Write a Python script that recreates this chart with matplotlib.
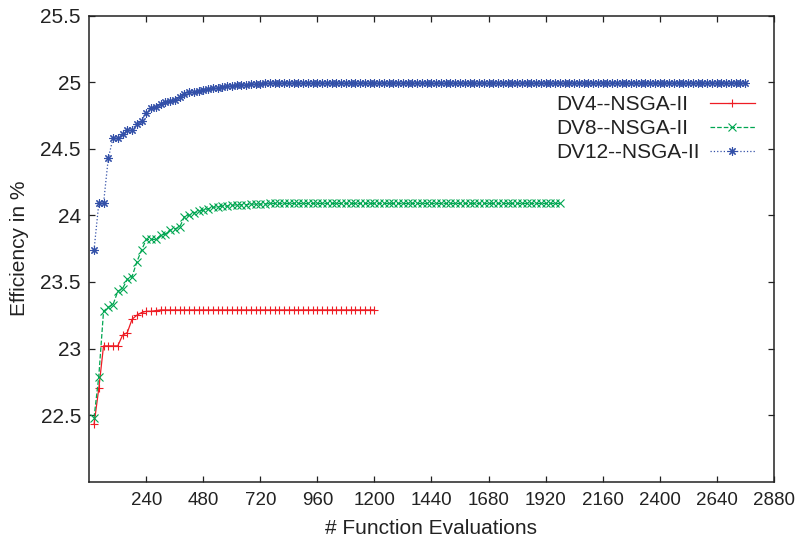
import numpy as np
import matplotlib
matplotlib.use('Agg')
import matplotlib.pyplot as plt
from matplotlib.lines import Line2D

plt.rcParams['font.family'] = ['Liberation Sans', 'DejaVu Sans']

# evaluations are logged once per generation (population size 20)
pop_size = 20

# efficiency (%) of best design after each generation
dv4 = [22.43, 22.70, 23.02, 23.02, 23.02, 23.02, 23.10, 23.12, 23.22, 23.25,
       23.27, 23.28, 23.28, 23.285, 23.29] + [23.29] * 45
dv8 = [22.48, 22.79, 23.28, 23.31, 23.33, 23.43, 23.45, 23.52, 23.54, 23.65,
       23.74, 23.82, 23.82, 23.82, 23.85, 23.86, 23.89, 23.90, 23.91, 23.99,
       24.00, 24.02, 24.03, 24.04, 24.05, 24.06, 24.065, 24.07, 24.07, 24.075,
       24.08, 24.08, 24.08, 24.085, 24.085, 24.085, 24.085, 24.09, 24.09, 24.09] + [24.09] * 59
dv12 = [23.74, 24.09, 24.09, 24.43, 24.58, 24.58, 24.61, 24.64, 24.645, 24.69,
        24.71, 24.77, 24.81, 24.815, 24.84, 24.85, 24.86, 24.87, 24.89, 24.91,
        24.925, 24.93, 24.935, 24.945, 24.95, 24.955, 24.96, 24.965, 24.97, 24.975,
        24.978, 24.98, 24.983, 24.985, 24.987, 24.99, 24.992, 24.993, 24.994, 24.995] + [24.997] * 98

labels = ['DV4--NSGA-II', 'DV8--NSGA-II', 'DV12--NSGA-II']
colors = ['#ee1c24', '#00a651', '#3350a8']
styles = ['-', '--', ':']
markers = ['+', 'x', (8, 2, 0)]

xticks = [240, 480, 720, 960, 1200, 1440, 1680, 1920, 2160, 2400, 2640, 2880]
yticks = [22.5, 23, 23.5, 24, 24.5, 25, 25.5]

fig = plt.figure(figsize=(8, 5.42), dpi=100)
ax = fig.add_axes([0.1116, 0.1113, 0.8555, 0.8597])

for ys, lab, c, ls, m in zip([dv4, dv8, dv12], labels, colors, styles, markers):
    xs = np.arange(1, len(ys) + 1) * pop_size
    ax.plot(xs, ys, linestyle=ls, color=c, marker=m, markersize=6,
            markeredgewidth=0.8, linewidth=0.9, label=lab)

ax.set_xlim(0, 2880)
ax.set_ylim(22, 25.5)
ax.set_xticks(xticks)
ax.set_xticklabels([str(t) for t in xticks])
ax.set_yticks(yticks)
ax.set_yticklabels(['22.5', '23', '23.5', '24', '24.5', '25', '25.5'])
ax.tick_params(direction='in', length=4.2, width=0.9, top=True, right=True,
               colors='#222222')
ax.tick_params(axis='x', pad=7.5, labelsize=13.5)
ax.tick_params(axis='y', pad=6, labelsize=15)
for sp in ax.spines.values():
    sp.set_linewidth(1.1)
    sp.set_color('#222222')

ax.set_xlabel('# Function Evaluations', fontsize=15, labelpad=7, color='#222222')
ax.set_ylabel('Efficiency in %', fontsize=15, labelpad=8, color='#222222')

# key, gnuplot style: labels left-aligned, samples on the right
text_x, h0, h1 = 0.6819, 0.9068, 0.9726
for i, (lab, c, ls, m) in enumerate(zip(labels, colors, styles, markers)):
    yb = 0.7972 - i * 0.0515
    ax.text(text_x, yb, lab, transform=ax.transAxes, fontsize=15,
            ha='left', va='baseline', color='#222222')
    yc = yb + 0.016
    ax.add_line(Line2D([h0, h1], [yc, yc], transform=ax.transAxes,
                       color=c, linestyle=ls, linewidth=0.9))
    ax.add_line(Line2D([(h0 + h1) / 2], [yc], transform=ax.transAxes,
                       color=c, marker=m, markersize=6, markeredgewidth=0.8))

fig.savefig('out.png', dpi=100)
